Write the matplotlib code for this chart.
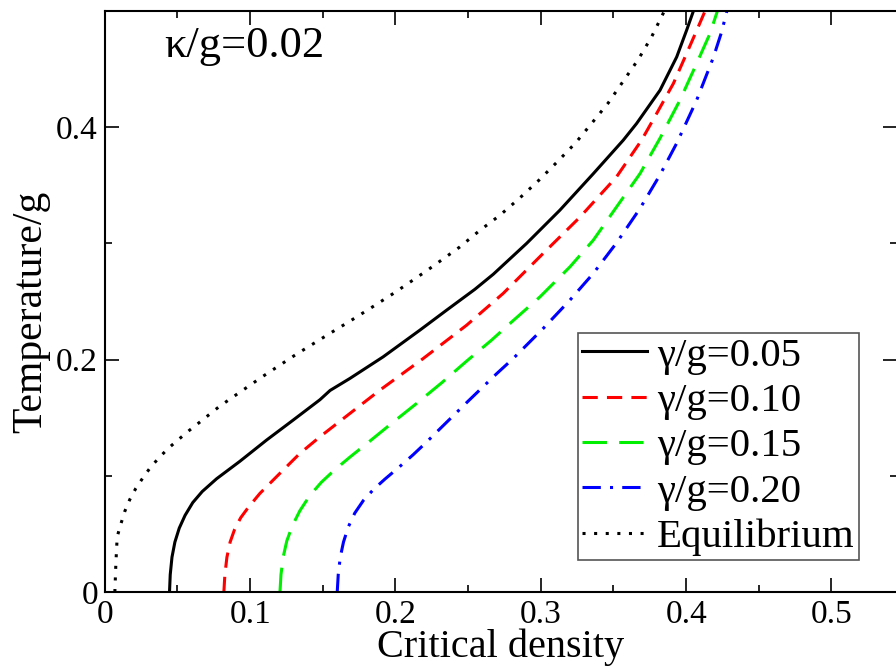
#!/usr/bin/env python

# critical density vs temperature, kappa/g = 0.02

from matplotlib import pyplot as plt
from matplotlib.ticker import MultipleLocator

plt.rcParams['font.family'] = ['Liberation Serif', 'DejaVu Serif']

# gamma/g = 0.05
x_005 = [0.0445, 0.0450, 0.0462, 0.0482, 0.0512, 0.0552, 0.0605, 0.0670, 0.0769, 0.0929,
         0.1113, 0.1296, 0.148, 0.155, 0.1686, 0.1915, 0.2168, 0.2352, 0.2546, 0.2673,
         0.2902, 0.3131, 0.3361, 0.3567, 0.3659, 0.382, 0.3935, 0.4003, 0.405]
y_005 = [0.0, 0.015, 0.030, 0.043, 0.055, 0.066, 0.077, 0.0865, 0.0975, 0.1125,
         0.1308, 0.148, 0.1655, 0.1735, 0.1838, 0.2024, 0.2254, 0.2426, 0.2605, 0.2735,
         0.300, 0.3286, 0.360, 0.3888, 0.4032, 0.4318, 0.4605, 0.4834, 0.5]

# gamma/g = 0.10
x_010 = [0.0819, 0.0826, 0.0840, 0.0862, 0.0893, 0.0935, 0.0985, 0.1067, 0.1204, 0.1342,
         0.1480, 0.1595, 0.1755, 0.1893, 0.2191, 0.2489, 0.2741, 0.3016, 0.3269, 0.3521,
         0.3693, 0.3797, 0.3912, 0.4003, 0.4083, 0.413]
y_010 = [0.0, 0.015, 0.030, 0.043, 0.054, 0.064, 0.0725, 0.0849, 0.1021, 0.1193,
         0.1336, 0.1448, 0.1604, 0.1738, 0.201, 0.2296, 0.257, 0.2914, 0.3226, 0.3573,
         0.3888, 0.4118, 0.4376, 0.4634, 0.4863, 0.5]

# gamma/g = 0.15
x_015 = [0.1205, 0.1212, 0.1227, 0.1252, 0.1290, 0.1342, 0.1410, 0.1490, 0.1580, 0.1690,
         0.1800, 0.1973, 0.2145, 0.2317, 0.2489, 0.2661, 0.2800, 0.2994, 0.3200, 0.3361,
         0.3521, 0.3682, 0.3820, 0.3957, 0.4072, 0.4164, 0.4215]
y_015 = [0.0, 0.015, 0.030, 0.044, 0.057, 0.070, 0.083, 0.0945, 0.105, 0.1165,
         0.1275, 0.1451, 0.1623, 0.180, 0.1987, 0.2168, 0.2325, 0.254, 0.2798, 0.3028,
         0.3314, 0.3600, 0.3905, 0.4232, 0.4548, 0.4806, 0.5]

# gamma/g = 0.20
x_020 = [0.1599, 0.1606, 0.1620, 0.1642, 0.1675, 0.1720, 0.1780, 0.1850, 0.1930, 0.2020,
         0.2120, 0.2213, 0.2306, 0.2420, 0.2500, 0.2626, 0.2695, 0.2810, 0.3016, 0.3200,
         0.3361, 0.3521, 0.3682, 0.3820, 0.3934, 0.4072, 0.4187, 0.4244, 0.4280]
y_020 = [0.0, 0.015, 0.030, 0.043, 0.056, 0.068, 0.079, 0.0885, 0.0975, 0.1070,
         0.1180, 0.1290, 0.1405, 0.1545, 0.1643, 0.1795, 0.1878, 0.2010, 0.2268, 0.2512,
         0.2742, 0.3005, 0.3300, 0.3590, 0.3860, 0.4232, 0.4600, 0.4820, 0.5]

# equilibrium
x_eq = [0.0069, 0.0076, 0.0085, 0.011, 0.0138, 0.0172, 0.0213, 0.0264, 0.0317, 0.0379,
        0.044, 0.051, 0.0578, 0.0647, 0.0716, 0.0785, 0.086, 0.108, 0.131, 0.1537,
        0.169, 0.1842, 0.1996, 0.222, 0.2443, 0.2576, 0.2719, 0.2856, 0.2987, 0.3113,
        0.3239, 0.3349, 0.3464, 0.3567, 0.367, 0.3762, 0.385]
y_eq = [0.0, 0.0247, 0.0476, 0.0585, 0.0697, 0.0797, 0.0892, 0.0987, 0.1078, 0.1164,
        0.1241, 0.1316, 0.1388, 0.1456, 0.1525, 0.1594, 0.166, 0.185, 0.204, 0.2217,
        0.2334, 0.2454, 0.2578, 0.277, 0.297, 0.3108, 0.3243, 0.3392, 0.3544, 0.3702,
        0.3865, 0.4032, 0.4209, 0.4396, 0.4582, 0.4777, 0.5]

x_ticks = [0, 0.1, 0.2, 0.3, 0.4, 0.5]
x_ticklabels = ['0', '0.1', '0.2', '0.3', '0.4', '0.5']
y_ticks = [0, 0.2, 0.4]
y_ticklabels = ['0', '0.2', '0.4']

fig = plt.figure(figsize=(8.96, 6.66), dpi=100)
ax = fig.add_axes([0.117, 0.111, 0.884, 0.8725])

ax.plot(x_005, y_005, color='black', lw=2.2, label='γ/g=0.05')
ax.plot(x_010, y_010, color='red', lw=2.2, dashes=(5, 3), label='γ/g=0.10')
ax.plot(x_015, y_015, color='#00ee00', lw=2.2, dashes=(8, 4), label='γ/g=0.15')
ax.plot(x_020, y_020, color='blue', lw=2.2, dashes=(6, 3, 1, 3), label='γ/g=0.20')
ax.plot(x_eq, y_eq, color='black', lw=2.2, dashes=(1, 2.8), label='Equilibrium')

ax.set_xlim(0, 0.545)
ax.set_ylim(0, 0.5)
ax.set_xticks(x_ticks)
ax.set_xticklabels(x_ticklabels)
ax.set_yticks(y_ticks)
ax.set_yticklabels(y_ticklabels)
ax.xaxis.set_minor_locator(MultipleLocator(0.05))
ax.yaxis.set_minor_locator(MultipleLocator(0.1))
ax.tick_params(which='both', direction='in', top=True, right=True, width=1.2,
               labelsize=24, pad=5)
ax.tick_params(which='major', length=10)
ax.tick_params(which='minor', length=5)
for s in ax.spines.values():
    s.set_linewidth(1.5)
ax.spines['right'].set_visible(False)

ax.set_xlabel('Critical density', fontsize=29, labelpad=-1)
ax.set_ylabel('Temperature/g', fontsize=30)
ax.yaxis.set_label_coords(-0.069, 0.482)

ax.text(0.075, 0.975, 'κ/g=0.02', transform=ax.transAxes, fontsize=32, va='top')

leg = ax.legend(loc='lower right', bbox_to_anchor=(0.952, 0.055), fontsize=29.4,
                fancybox=False, framealpha=1, edgecolor='#555555',
                handlelength=1.6, handletextpad=0.25, labelspacing=0.19,
                borderpad=0.1, borderaxespad=0)
leg.get_frame().set_linewidth(1.2)

plt.savefig('out.png')
